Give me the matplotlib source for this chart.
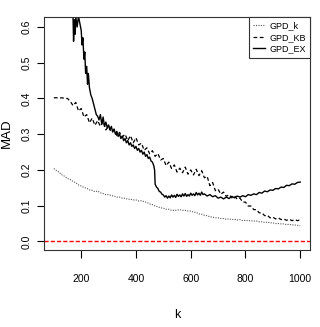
import matplotlib
matplotlib.use("Agg")
import matplotlib.pyplot as plt
import numpy as np

plt.rcParams['font.family'] = ['Liberation Sans', 'DejaVu Sans']

# ---- data ----
k_grid = list(range(100, 1001, 10))

gpd_k = [0.204, 0.198, 0.193, 0.186, 0.182, 0.176, 0.173, 0.168, 0.164, 0.158,
         0.155, 0.151, 0.149, 0.144, 0.143, 0.139, 0.141, 0.136, 0.134, 0.131,
         0.131, 0.128, 0.127, 0.124, 0.124, 0.121, 0.121, 0.118, 0.118, 0.116,
         0.116, 0.113, 0.114, 0.111, 0.109, 0.105, 0.103, 0.099, 0.097, 0.094,
         0.093, 0.090, 0.090, 0.087, 0.087, 0.087, 0.089, 0.087, 0.087, 0.085,
         0.085, 0.082, 0.081, 0.077, 0.076, 0.073, 0.072, 0.069, 0.068, 0.066,
         0.066, 0.064, 0.064, 0.062, 0.063, 0.061, 0.062, 0.060, 0.061, 0.058,
         0.059, 0.058, 0.058, 0.057, 0.057, 0.055, 0.055, 0.053, 0.054, 0.052,
         0.052, 0.050, 0.050, 0.049, 0.049, 0.047, 0.048, 0.046, 0.046, 0.045,
         0.044]

gpd_kb = [0.402, 0.402, 0.401, 0.402, 0.400, 0.400, 0.392, 0.380, 0.389, 0.365,
          0.372, 0.348, 0.355, 0.332, 0.345, 0.325, 0.338, 0.322, 0.336, 0.312,
          0.322, 0.306, 0.314, 0.296, 0.305, 0.292, 0.300, 0.282, 0.296, 0.276,
          0.290, 0.270, 0.275, 0.255, 0.262, 0.245, 0.254, 0.238, 0.246, 0.228,
          0.232, 0.212, 0.222, 0.204, 0.214, 0.194, 0.205, 0.192, 0.208, 0.188,
          0.200, 0.186, 0.202, 0.184, 0.198, 0.178, 0.182, 0.156, 0.165, 0.142,
          0.146, 0.132, 0.138, 0.126, 0.131, 0.122, 0.127, 0.118, 0.121, 0.110,
          0.110, 0.099, 0.099, 0.089, 0.089, 0.080, 0.080, 0.072, 0.073, 0.066,
          0.068, 0.063, 0.066, 0.061, 0.063, 0.059, 0.062, 0.058, 0.061, 0.058,
          0.061]

k_ex = [170, 172, 175, 178, 180, 185, 190, 195, 200, 203, 206, 210, 213, 216,
        220, 223, 226, 230, 235, 240, 245, 250, 255, 260, 265, 270, 275, 280,
        285, 290, 295, 300, 305, 310, 315, 320, 325, 330, 335, 340, 345, 350,
        355, 360, 365, 370, 375, 380, 385, 390, 395, 400, 405, 410, 415, 420,
        425, 430, 435, 440, 445, 450, 455, 460, 465, 468, 470, 475, 480, 485,
        490, 495, 500, 505, 510, 515, 520, 525, 530, 535, 540, 545, 550, 555,
        560, 565, 570, 575, 580, 585, 590, 595, 600, 605, 610, 615, 620, 625,
        630, 635, 640, 645, 650, 660, 670, 680, 690, 700, 710, 720, 730, 740,
        750, 760, 770, 780, 790, 800, 810, 820, 830, 840, 850, 860, 870, 880,
        890, 900, 910, 920, 930, 940, 950, 960, 970, 980, 990, 1000]
gpd_ex = [0.630, 0.560, 0.620, 0.580, 0.630, 0.600, 0.630, 0.610, 0.590, 0.550,
          0.570, 0.510, 0.530, 0.470, 0.490, 0.440, 0.470, 0.430, 0.410, 0.400,
          0.385, 0.370, 0.355, 0.350, 0.340, 0.355, 0.328, 0.348, 0.322, 0.334,
          0.318, 0.326, 0.312, 0.322, 0.306, 0.314, 0.300, 0.308, 0.294, 0.300,
          0.288, 0.295, 0.282, 0.288, 0.276, 0.282, 0.270, 0.276, 0.266, 0.270,
          0.260, 0.266, 0.255, 0.260, 0.250, 0.255, 0.244, 0.250, 0.238, 0.243,
          0.232, 0.236, 0.225, 0.222, 0.212, 0.200, 0.160, 0.152, 0.148, 0.140,
          0.138, 0.132, 0.130, 0.124, 0.128, 0.121, 0.127, 0.122, 0.130, 0.124,
          0.129, 0.123, 0.132, 0.126, 0.130, 0.125, 0.133, 0.127, 0.134, 0.126,
          0.131, 0.127, 0.135, 0.129, 0.133, 0.128, 0.137, 0.130, 0.135, 0.129,
          0.138, 0.131, 0.133, 0.127, 0.131, 0.125, 0.128, 0.121, 0.124, 0.119,
          0.124, 0.120, 0.126, 0.122, 0.127, 0.124, 0.128, 0.125, 0.131, 0.129,
          0.133, 0.131, 0.137, 0.135, 0.141, 0.139, 0.144, 0.143, 0.148, 0.147,
          0.152, 0.151, 0.157, 0.156, 0.161, 0.160, 0.165, 0.166]

labels = ["GPD_k", "GPD_KB", "GPD_EX"]
x_ticks = [200, 400, 600, 800, 1000]
y_ticks = [0.0, 0.1, 0.2, 0.3, 0.4, 0.5, 0.6]

# ---- plot ----
fig = plt.figure(figsize=(3.2, 3.27), dpi=100)
ax = fig.add_axes([0.1375, 0.2355, 0.8315, 0.7125])

ax.plot(k_grid, gpd_k, linestyle=(0, (1, 1.2)), color='#555555', lw=0.8, label=labels[0])
ax.plot(k_grid, gpd_kb, linestyle=(0, (3, 2)), color='black', lw=0.9, label=labels[1])
ax.plot(k_ex, gpd_ex, linestyle='-', color='black', lw=1.0, label=labels[2])
ax.axhline(0, color='#ff0000', linestyle=(0, (3, 1.5)), lw=1.0)

ax.set_xlim(64, 1036)
ax.set_ylim(-0.024, 0.628)
ax.set_xticks(x_ticks)
ax.set_yticks(y_ticks)
ax.set_yticklabels([f"{v:.1f}" for v in y_ticks], rotation=90, va='center')
ax.tick_params(axis='x', length=6, width=0.8, pad=11, labelsize=7.5)
ax.tick_params(axis='y', length=5, width=0.8, pad=4, labelsize=7.5)
for s in ax.spines.values():
    s.set_linewidth(0.8)
    s.set_color('#333333')

ax.set_xlabel('k', fontsize=9, labelpad=18)
ax.set_ylabel('MAD', fontsize=9.5, labelpad=6)

leg = ax.legend(loc='upper right', borderaxespad=0, fontsize=6.5, handlelength=1.3,
                handletextpad=0.5, labelspacing=0.3, fancybox=False,
                borderpad=0.45, framealpha=1)
leg.get_frame().set_edgecolor('#333333')
leg.get_frame().set_linewidth(0.8)

fig.savefig('out.png', dpi=100)
